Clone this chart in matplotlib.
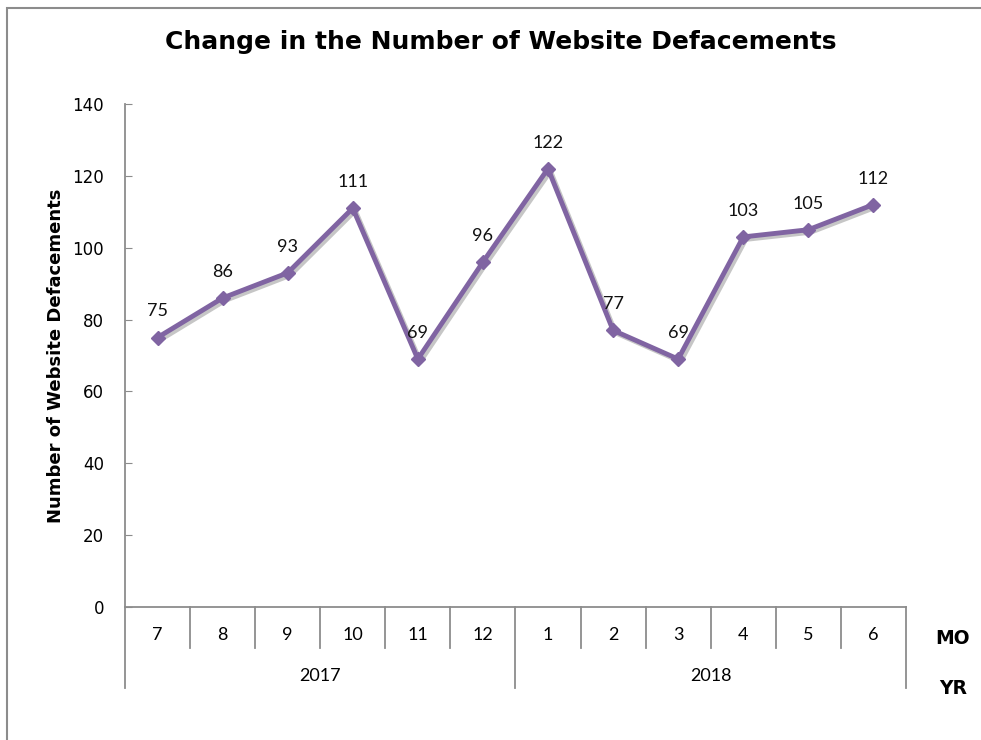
import numpy as np
import matplotlib
matplotlib.use("Agg")
import matplotlib.pyplot as plt
import matplotlib.patheffects as pe
from matplotlib.transforms import blended_transform_factory
from matplotlib.patches import Rectangle

months = ['7', '8', '9', '10', '11', '12', '1', '2', '3', '4', '5', '6']
years = ['2017', '2018']
months_per_year = [6, 6]
defacements = [75, 86, 93, 111, 69, 96, 122, 77, 69, 103, 105, 112]

purple = '#8064A2'
grey = '#8c8c8c'

fig = plt.figure(figsize=(9.81, 7.4), dpi=100)
ax = fig.add_axes([0.1274, 0.1797, 0.7961, 0.6798])

x = np.arange(len(months))
shadow = [pe.SimpleLineShadow(offset=(1.8, -1.8), shadow_color='#444444', alpha=0.3), pe.Normal()]
ax.plot(x, defacements, color=purple, lw=3.5, path_effects=shadow, zorder=3)
ax.plot(x, defacements, ls='none', marker='D', markersize=7.5,
        markerfacecolor=purple, markeredgecolor=purple, zorder=4)

for xi, v in zip(x, defacements):
    ax.annotate(str(v), (xi, v), xytext=(0, 13), textcoords='offset points',
                ha='center', va='bottom', fontsize=13, family='Lato', color='#111111')

ax.set_xlim(-0.5, len(months) - 0.5)
ax.set_ylim(0, 140)
ax.set_yticks(range(0, 141, 20))
ax.tick_params(axis='y', direction='in', length=5, color=grey, labelsize=12, pad=15)
for lab in ax.get_yticklabels():
    lab.set_family('DejaVu Sans')
ax.set_xticks([])
for s in ['top', 'right']:
    ax.spines[s].set_visible(False)
for s in ['left', 'bottom']:
    ax.spines[s].set_color(grey)
    ax.spines[s].set_linewidth(1.3)

# two-level category axis
tr = blended_transform_factory(ax.transData, ax.transAxes)
mo_bottom = -0.0815
yr_bottom = -0.161
bounds = np.arange(len(months) + 1) - 0.5
year_edges = np.concatenate([[0], np.cumsum(months_per_year)]) - 0.5
for b in bounds:
    low = yr_bottom if b in year_edges else mo_bottom
    ax.plot([b, b], [0, low], transform=tr, color=grey, lw=1.3, clip_on=False)
for xi, m in zip(x, months):
    ax.text(xi, -0.056, m, transform=tr, ha='center', va='center', fontsize=13, family='Lato')
for i, yr in enumerate(years):
    mid = (year_edges[i] + year_edges[i + 1]) / 2
    ax.text(mid, -0.137, yr, transform=tr, ha='center', va='center', fontsize=13, family='Lato')
ax.text(1.06, -0.062, 'MO', transform=ax.transAxes, ha='center', va='center',
        fontsize=13.5, fontweight='bold', family='DejaVu Sans')
ax.text(1.06, -0.161, 'YR', transform=ax.transAxes, ha='center', va='center',
        fontsize=13.5, fontweight='bold', family='DejaVu Sans')

ax.set_ylabel('Number of Website Defacements', fontsize=13, fontweight='bold',
              family='DejaVu Sans', labelpad=5)
fig.text(0.51, 0.943, 'Change in the Number of Website Defacements', ha='center', va='center',
         fontsize=18, fontweight='bold', family='DejaVu Sans')

fig.patches.append(Rectangle((0.0071, -0.2), 1.2, 1.189, transform=fig.transFigure,
                             fill=False, edgecolor=grey, lw=1.5))

fig.savefig('out.png', dpi=100)
